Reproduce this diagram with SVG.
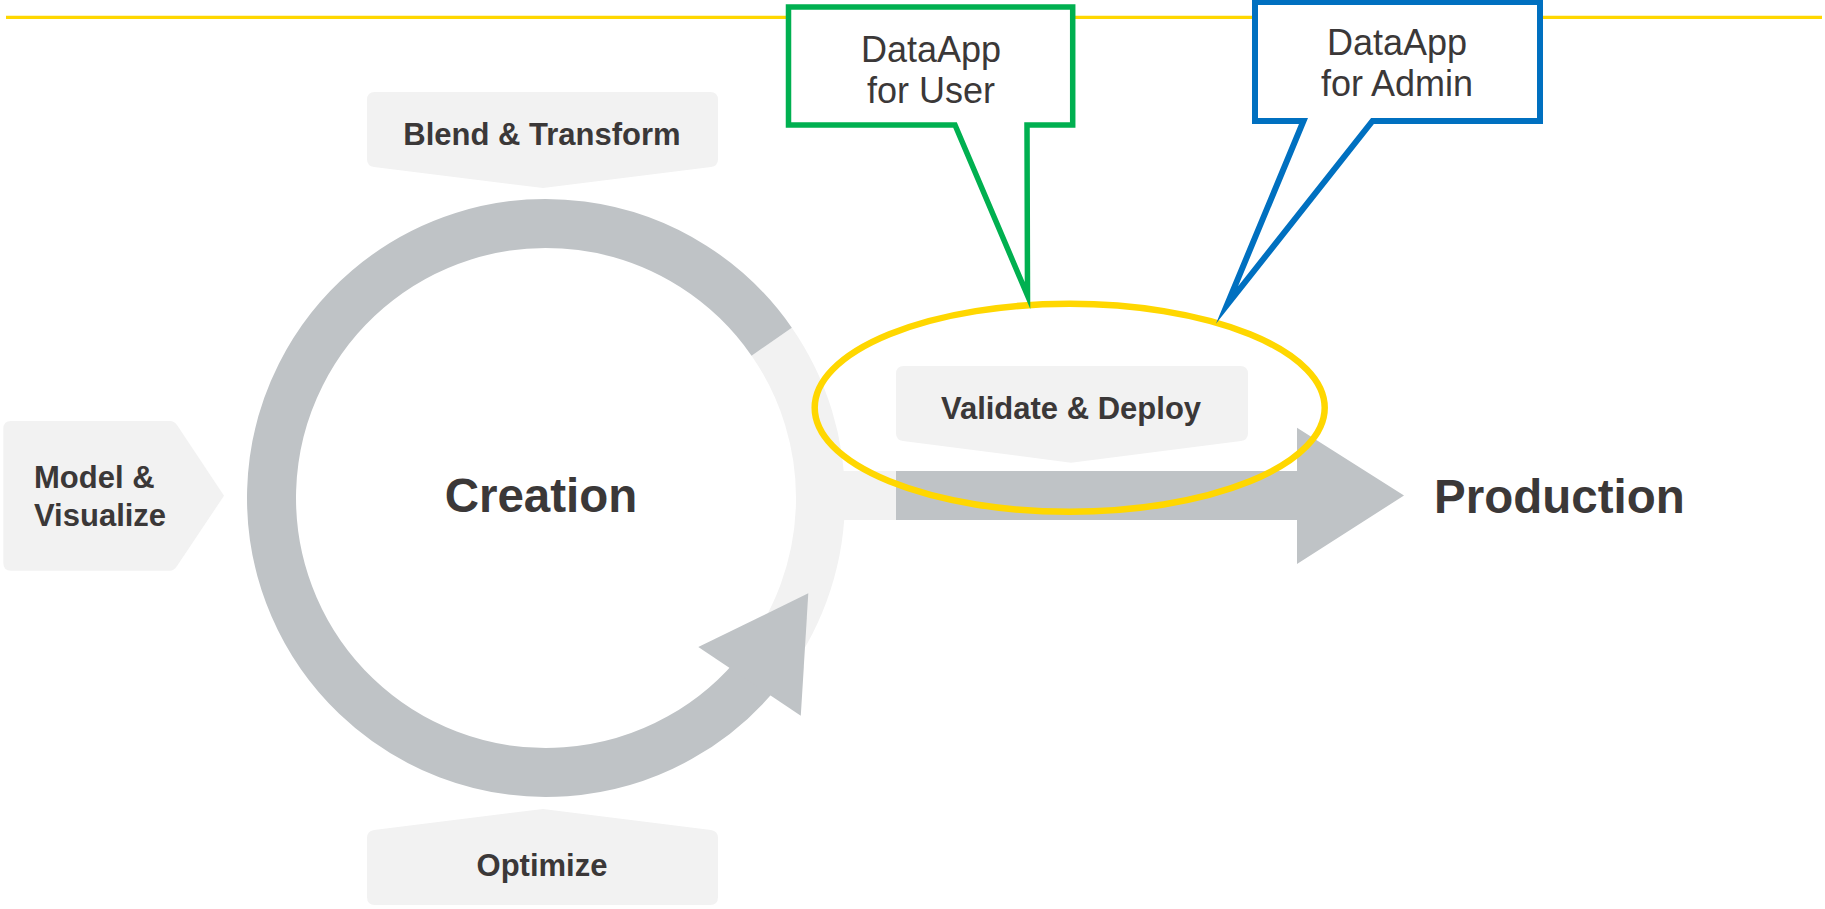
<svg xmlns="http://www.w3.org/2000/svg" width="1825" height="909" viewBox="0 0 1825 909">
  <style>
    .lbl { font-family: "Liberation Sans", Arial, sans-serif; font-weight: bold; fill: #3b3838; }
    .step { font-size: 31px; }
    .big { font-size: 47.5px; }
    .call { font-family: "Liberation Sans", Arial, sans-serif; font-size: 36px; fill: #3b3838; text-anchor: middle; }
    .tab { fill: #f2f2f2; }
    .ring { fill: none; stroke-width: 49; }
  </style>

  <rect width="1825" height="909" fill="#ffffff"/>

  <!-- header rule -->
  <line x1="6" y1="17.3" x2="1822" y2="17.3" stroke="#ffd700" stroke-width="3.3"/>

  <!-- creation cycle: light segment, grey loop and its arrowhead -->
  <g id="creation-cycle">
    <path class="ring" stroke="#f2f2f2" d="M771.7,341.7 A274.5,274.5 0 0 1 762.3,667"/>
    <rect x="800" y="471" width="97" height="49" fill="#f2f2f2"/>
    <path class="ring" stroke="#bfc3c6" d="M762.3,667 A274.5,274.5 0 1 1 771.7,341.7"/>
    <polygon fill="#bfc3c6" points="698.3,647.1 808.3,593.3 800.8,715.7"/>
    <text class="lbl big" x="541" y="512" text-anchor="middle">Creation</text>
  </g>

  <g id="blend-transform">
    <path class="tab" d="M375,92 H710 Q718,92 718,100 V159 Q718,166 711,167 L543,188 L374,167 Q367,166 367,159 V100 Q367,92 375,92 Z"/>
    <text class="lbl step" x="542" y="145" text-anchor="middle">Blend &amp; Transform</text>
  </g>

  <g id="optimize">
    <path class="tab" d="M375,905 H710 Q718,905 718,897 V838 Q718,831 711,830 L543,809 L374,830 Q367,831 367,838 V897 Q367,905 375,905 Z"/>
    <text class="lbl step" x="542" y="876" text-anchor="middle">Optimize</text>
  </g>

  <g id="model-visualize">
    <path class="tab" d="M11,421 H170 Q174,421 177,425 L224,495.7 L177,566 Q174,570.7 170,570.7 H11 Q3.3,570.7 3.3,563 V429 Q3.3,421 11,421 Z"/>
    <text class="lbl step" x="34" y="488">Model &amp;</text>
    <text class="lbl step" x="34" y="526">Visualize</text>
  </g>

  <g id="validate-deploy">
    <path class="tab" d="M904,366 H1240 Q1248,366 1248,374 V433 Q1248,440 1241,441 L1071,462.7 L903,441 Q896,440 896,433 V374 Q896,366 904,366 Z"/>
    <text class="lbl step" x="1071" y="419" text-anchor="middle">Validate &amp; Deploy</text>
  </g>

  <!-- flow from creation into production -->
  <g id="connectors">
    <polygon fill="#bfc3c6" points="896,471 1297,471 1297,427.7 1404,495.5 1297,564 1297,520 896,520"/>
  </g>

  <g id="production">
    <text class="lbl big" x="1434" y="513">Production</text>
  </g>

  <!-- highlight around the deployment stage -->
  <g id="deploy-highlight">
    <ellipse cx="1069.7" cy="407.8" rx="255" ry="104" fill="none" stroke="#ffd700" stroke-width="6.5"/>
  </g>

  <!-- callouts: the pointer vertex sits back from the drawn tip so the mitred stroke ends on the ellipse -->
  <g id="dataapp-user">
    <path d="M788.5,7 H1072.7 V125 H1027 L1027.5,295.5 L955,125 H788.5 Z" fill="#ffffff" stroke="#00b050" stroke-width="5.5" stroke-miterlimit="12"/>
    <text class="call" x="931" y="62">DataApp</text>
    <text class="call" x="931" y="103">for User</text>
  </g>

  <g id="dataapp-admin">
    <path d="M1255,2 H1540 V121 H1372.5 L1227,305 L1303.5,121 H1255 Z" fill="#ffffff" stroke="#0070c0" stroke-width="6" stroke-miterlimit="12"/>
    <text class="call" x="1397" y="55">DataApp</text>
    <text class="call" x="1397" y="96">for Admin</text>
  </g>
</svg>
